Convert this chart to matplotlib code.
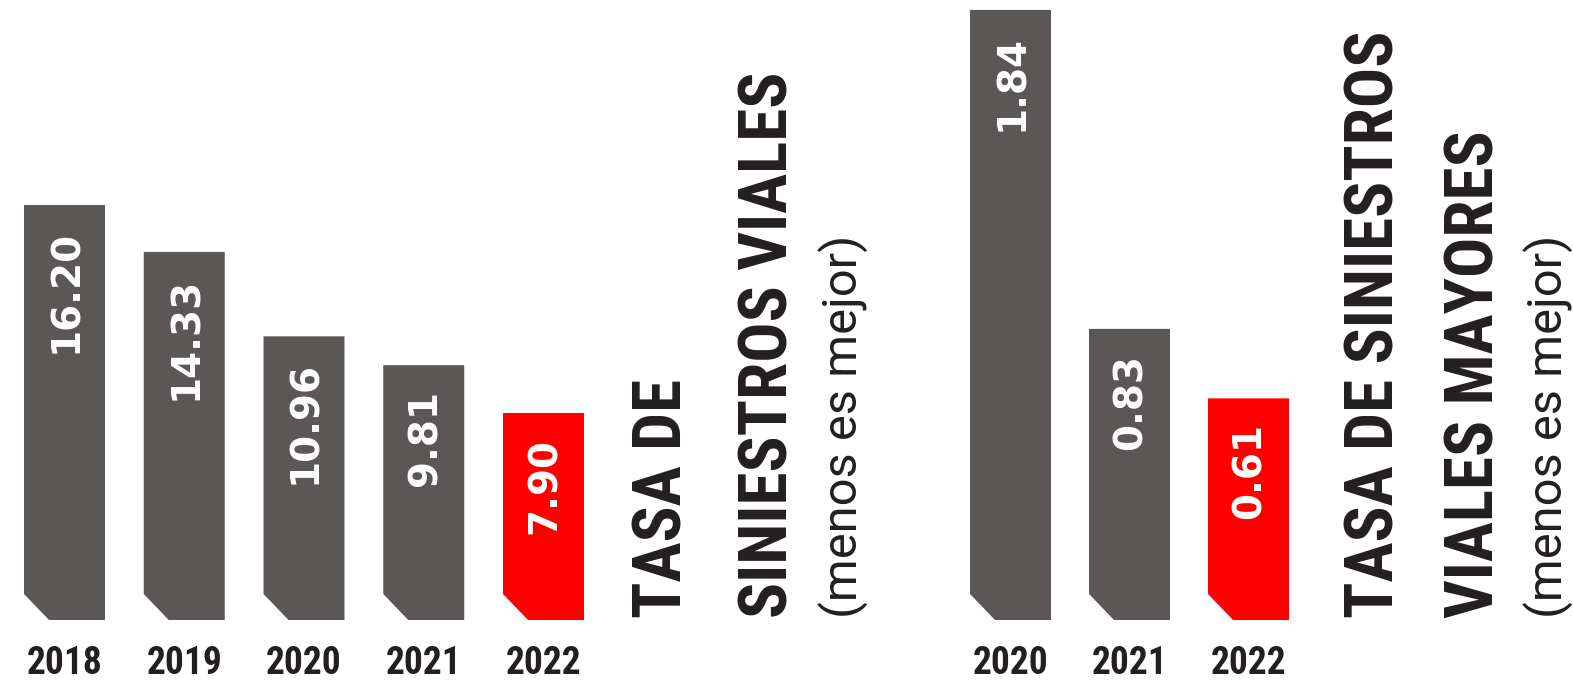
import matplotlib
matplotlib.use('Agg')
import matplotlib.pyplot as plt

# data
years_a = ['2018', '2019', '2020', '2021', '2022']
tasa_a = [16.20, 14.33, 10.96, 9.81, 7.90]
years_b = ['2020', '2021', '2022']
tasa_b = [1.84, 0.83, 0.61]

GRAY = '#5b5756'
RED = '#ff0000'
INK = '#231f20'
COND = dict(family=['Roboto Condensed', 'Noto Sans', 'DejaVu Sans'],
            fontstretch='condensed', fontweight='bold')
LIGHT = dict(family=['Roboto', 'DejaVu Sans'], fontweight='normal')

W, H = 1573, 686
fig = plt.figure(figsize=(W / 100, H / 100), dpi=100)


def panel(left_px, width_px, first_px, step_px, ppu, base_px, years, vals):
    # axes spanning from top of figure to bar baseline (y=620 from top)
    ax = fig.add_axes([left_px / W, (H - 620) / H, width_px / W, 620 / H])
    base = -base_px / ppu
    ax.set_xlim(-first_px / step_px, (width_px - first_px) / step_px)
    ax.set_ylim(base, 620 / ppu + base)
    ax.axis('off')
    bw = 81 / step_px
    dx = 25 / step_px
    dy = 26 / ppu
    for i, v in enumerate(vals):
        c = RED if i == len(vals) - 1 else GRAY
        x0, x1 = i - bw / 2, i + bw / 2
        ax.fill([x0, x0 + dx, x1, x1, x0], [base + dy, base, base, v, v],
                color=c, lw=0)
        ax.annotate(f'{v:.2f}', (i, v), xytext=(1, -18), textcoords='offset points',
                    rotation=90, ha='center', va='top', color='white',
                    fontsize=28, fontweight='bold', family='DejaVu Sans')
        ax.annotate(years[i], (i, base), xytext=(0, -31), textcoords='offset points',
                    ha='center', va='center', color=INK, fontsize=27,
                    annotation_clip=False, **COND)
    return ax


panel(0, 620, 64.5, 119.75, 25.06, 9, years_a, tasa_a)
panel(950, 350, 60.5, 119, 315.8, 29, years_b, tasa_b)


def vtext(x_px, s, size, style):
    return fig.text(x_px / W, (H - 618) / H, s, rotation=90, rotation_mode='anchor',
                    ha='left', va='baseline', fontsize=size, color=INK, **style)


titles = [
    vtext(681, 'TASA DE', 56, COND),
    vtext(787, 'SINIESTROS VIALES', 56, COND),
    vtext(1394, 'TASA DE SINIESTROS', 56, COND),
    vtext(1494, 'VIALES MAYORES', 56, COND),
]
notes = [
    vtext(857, '(menos es mejor)', 33, LIGHT),
    vtext(1562, '(menos es mejor)', 33, LIGHT),
]

# scale the title font so "SINIESTROS VIALES" runs ~546 px long
r = fig.canvas.get_renderer()
L = titles[1].get_window_extent(r).height
for t in titles:
    t.set_fontsize(56 * 546 / L)
L = notes[0].get_window_extent(r).height
for t in notes:
    t.set_fontsize(33 * 383 / L)

fig.savefig('out.png', dpi=100, facecolor='white')
